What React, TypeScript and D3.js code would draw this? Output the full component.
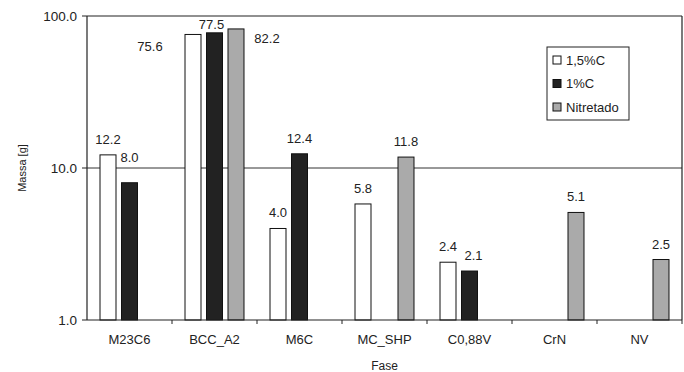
import React from "react";
import * as d3 from "d3";

// categories and series
const fases = ["M23C6", "BCC_A2", "M6C", "MC_SHP", "C0,88V", "CrN", "NV"];
const seriesNames = ["1,5%C", "1%C", "Nitretado"];
const serie15C = [12.2, 75.6, 4.0, 5.8, 2.4, null, null];
const serie1C = [8.0, 77.5, 12.4, null, 2.1, null, null];
const serieNitretado = [null, 82.2, null, 11.8, null, 5.1, 2.5];
const yTicks = [1, 10, 100];

const seriesValues = [serie15C, serie1C, serieNitretado];
const fills = ["#ffffff", "#222222", "#aaaaaa"];

// manual label nudges (the source chart had hand-placed labels)
const labelNudge: Record<string, [number, number]> = {
  "8.0": [0, -10],
  "75.6": [-43, 28],
  "77.5": [-3, 7],
  "82.2": [31, 25],
  "2.1": [4, 0],
};

const W = 684;
const H = 372;
const left = 87;
const right = 682;
const top = 16;
const bottom = 320;
const font = "'Liberation Sans', Arial, sans-serif";

export default function App() {
  const x = d3.scaleBand<string>().domain(fases).range([left, right]).padding(0);
  const xs = d3
    .scaleBand<number>()
    .domain([0, 1, 2])
    .range([0, x.bandwidth()])
    .paddingInner(0.256)
    .paddingOuter(0.605);
  const y = d3.scaleLog().domain([1, 100]).range([bottom, top]);

  const bars: any[] = [];
  seriesValues.forEach((vals, si) => {
    vals.forEach((v, ci) => {
      if (v == null) return;
      bars.push({ si, ci, v, fase: fases[ci] });
    });
  });

  return (
    <svg width={W} height={H} style={{ position: "absolute", left: 0, top: 0, background: "#fff" }}>
      {/* gridline at 10 */}
      {yTicks.slice(1, -1).map((t) => (
        <line key={t} x1={left} x2={right} y1={y(t)} y2={y(t)} stroke="#333" strokeWidth={1} />
      ))}

      {bars.map((b) => {
        const bx = (x(b.fase) as number) + (xs(b.si) as number);
        return (
          <rect
            key={b.si + "-" + b.ci}
            x={bx}
            y={y(b.v)}
            width={xs.bandwidth()}
            height={bottom - y(b.v)}
            fill={fills[b.si]}
            stroke="#111"
            strokeWidth={1}
          />
        );
      })}

      {bars.map((b) => {
        const label = b.v.toFixed(1);
        const [dx, dy] = labelNudge[label] || [0, 0];
        const cx = (x(b.fase) as number) + (xs(b.si) as number) + xs.bandwidth() / 2;
        return (
          <text
            key={"l" + b.si + "-" + b.ci}
            x={cx + dx}
            y={y(b.v) - 11 + dy}
            textAnchor="middle"
            fontFamily={font}
            fontSize={13}
            fill="#222"
          >
            {label}
          </text>
        );
      })}

      {/* frame */}
      <line x1={left} x2={right} y1={top} y2={top} stroke="#222" strokeWidth={1.2} />
      <line x1={right} x2={right} y1={top} y2={bottom} stroke="#222" strokeWidth={1.2} />
      <line x1={left} x2={left} y1={top} y2={bottom} stroke="#222" strokeWidth={1.2} />
      <line x1={left} x2={right} y1={bottom} y2={bottom} stroke="#222" strokeWidth={1.2} />

      {/* y ticks */}
      {yTicks.map((t) => (
        <g key={t}>
          <line x1={left - 5} x2={left} y1={y(t)} y2={y(t)} stroke="#222" />
          <text
            x={left - 10}
            y={y(t)}
            dy="0.35em"
            textAnchor="end"
            fontFamily={font}
            fontSize={13.5}
            fill="#222"
          >
            {t.toFixed(1)}
          </text>
        </g>
      ))}

      {/* x ticks between categories */}
      {fases.map((f, i) => (
        <line
          key={"t" + f}
          x1={(x(f) as number) + x.bandwidth()}
          x2={(x(f) as number) + x.bandwidth()}
          y1={bottom}
          y2={bottom + 4}
          stroke="#222"
        />
      ))}
      {fases.map((f) => (
        <text
          key={"c" + f}
          x={(x(f) as number) + x.bandwidth() / 2}
          y={344}
          textAnchor="middle"
          fontFamily={font}
          fontSize={13}
          fill="#222"
        >
          {f}
        </text>
      ))}

      <text x={(left + right) / 2} y={370} textAnchor="middle" fontFamily={font} fontSize={12} fill="#222">
        Fase
      </text>
      <text
        transform={`translate(26,${(top + bottom) / 2}) rotate(-90)`}
        textAnchor="middle"
        fontFamily={font}
        fontSize={11}
        fill="#222"
      >
        Massa [g]
      </text>

      {/* legend */}
      <g transform="translate(547,47)">
        <rect x={0} y={0} width={82} height={73} fill="#fff" stroke="#222" />
        {seriesNames.map((s, i) => (
          <g key={s} transform={`translate(6,${13 + i * 23.5})`}>
            <rect x={0} y={-4} width={8} height={8} fill={fills[i]} stroke="#111" />
            <text x={13} y={0} dy="0.36em" fontFamily={font} fontSize={13} fill="#222">
              {s}
            </text>
          </g>
        ))}
      </g>
    </svg>
  );
}
